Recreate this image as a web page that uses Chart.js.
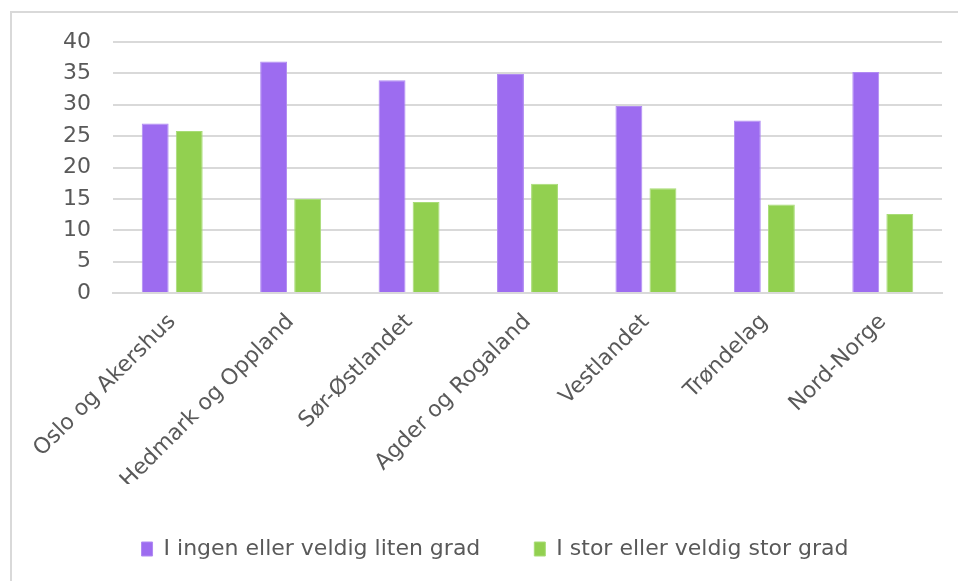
<!DOCTYPE html>
<html>
<head>
<meta charset="utf-8">
<script src="https://cdn.jsdelivr.net/npm/chart.js@4/dist/chart.umd.min.js"></script>
<style>
  html, body { margin: 0; padding: 0; background: #ffffff; }
  #wrap { position: relative; width: 958px; height: 581px; }
  canvas { display: block; }
</style>
</head>
<body>
<div id="wrap"><canvas id="c" width="958" height="581"></canvas></div>
<script>
const categories = ["Oslo og Akershus", "Hedmark og Oppland", "Sør-Østlandet", "Agder og Rogaland", "Vestlandet", "Trøndelag", "Nord-Norge"];
const seriesNames = ["I ingen eller veldig liten grad", "I stor eller veldig stor grad"];
const lowValues = [27.0, 36.9, 33.9, 34.9, 29.8, 27.5, 35.2];
const highValues = [25.8, 15.0, 14.5, 17.4, 16.7, 14.1, 12.6];
const yTicks = [0, 5, 10, 15, 20, 25, 30, 35, 40];

const textColor = '#595959';
const gridColor = '#d9d9d9';
const fontFamily = '"DejaVu Sans", sans-serif';
const LEGEND_HEIGHT = 85;

const borderPlugin = {
  id: 'outerBorder',
  afterInit(chart) {
    const lg = chart.legend;
    if (lg) {
      const origFit = lg.fit.bind(lg);
      lg.fit = function () { origFit(); this.height = LEGEND_HEIGHT; };
    }
  },
  beforeDraw(chart) {
    const ctx = chart.ctx;
    ctx.save();
    ctx.fillStyle = '#ffffff';
    ctx.fillRect(0, 0, chart.width, chart.height);
    ctx.strokeStyle = '#d9d9d9';
    ctx.lineWidth = 2;
    ctx.strokeRect(11, 12, 1200, 1200);
    ctx.restore();
  }
};

new Chart(document.getElementById('c'), {
  type: 'bar',
  data: {
    labels: categories,
    datasets: [
      { label: seriesNames[0], data: lowValues, backgroundColor: '#9d6cf0', borderColor: '#b08af3', borderWidth: 1 },
      { label: seriesNames[1], data: highValues, backgroundColor: '#92d050', borderColor: '#a8dc76', borderWidth: 1 }
    ]
  },
  options: {
    responsive: false,
    animation: false,
    devicePixelRatio: 1,
    datasets: { bar: { categoryPercentage: 0.575, barPercentage: 0.79 } },
    layout: { padding: { top: 42, left: 48, right: 16, bottom: 12 } },
    plugins: {
      legend: {
        position: 'bottom',
        labels: {
          color: textColor,
          font: { family: fontFamily, size: 22 },
          boxWidth: 11,
          boxHeight: 14,
          padding: 54
        }
      },
      tooltip: { enabled: false }
    },
    scales: {
      x: {
        grid: { display: false },
        border: { display: true, color: gridColor, width: 2 },
        ticks: {
          color: textColor,
          font: { family: fontFamily, size: 22 },
          minRotation: 45,
          maxRotation: 45,
          padding: 8
        },
        afterFit(scale) { scale.height = 191; }
      },
      y: {
        min: 0,
        max: 40,
        afterBuildTicks(scale) { scale.ticks = yTicks.map(v => ({ value: v })); },
        grid: { color: gridColor, lineWidth: 2, drawTicks: false },
        border: { display: false },
        ticks: {
          color: textColor,
          font: { family: fontFamily, size: 22 },
          padding: 22
        },
        afterFit(scale) { scale.width = 65; }
      }
    }
  },
  plugins: [borderPlugin]
});
</script>
</body>
</html>
